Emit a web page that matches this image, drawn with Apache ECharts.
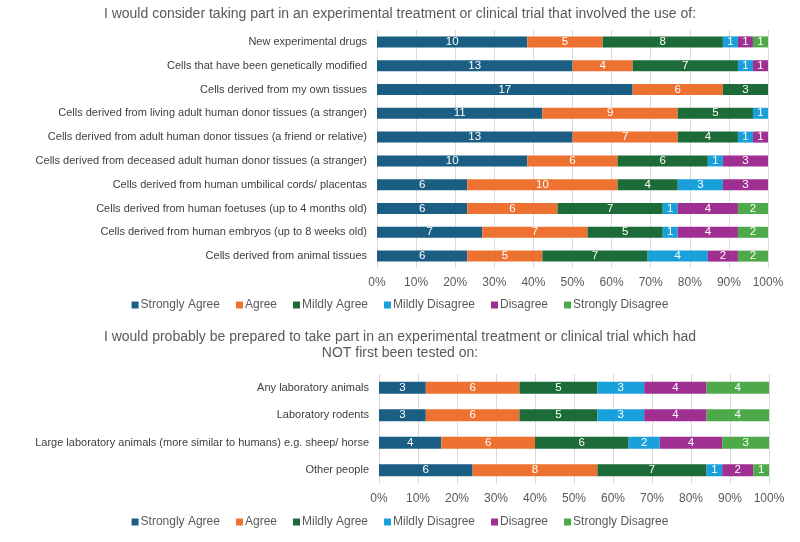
<!DOCTYPE html>
<html>
<head>
<meta charset="utf-8">
<script src="https://cdn.jsdelivr.net/npm/echarts@6/dist/echarts.min.js"></script>
<style>
html, body { margin: 0; padding: 0; background: #fff; }
#main { width: 800px; height: 542px; }
</style>
</head>
<body>
<div id="main"></div>
<script>
// 数据
var seriesNames = ['Strongly Agree', 'Agree', 'Mildly Agree', 'Mildly Disagree', 'Disagree', 'Strongly Disagree'];
var colors = ['#1b5e84', '#ed7232', '#1c6b38', '#19a0db', '#9f2f90', '#4ea94a'];

var categoriesTop = [
    'New experimental drugs',
    'Cells that have been genetically modified',
    'Cells derived from my own tissues',
    'Cells derived from living adult human donor tissues (a stranger)',
    'Cells derived from adult human donor tissues (a friend or relative)',
    'Cells derived from deceased adult human donor tissues (a stranger)',
    'Cells derived from human umbilical cords/ placentas',
    'Cells derived from human foetuses (up to 4 months old)',
    'Cells derived from human embryos (up to 8 weeks old)',
    'Cells derived from animal tissues'
];
var stronglyAgreeTop    = [10, 13, 17, 11, 13, 10, 6, 6, 7, 6];
var agreeTop            = [5, 4, 6, 9, 7, 6, 10, 6, 7, 5];
var mildlyAgreeTop      = [8, 7, 3, 5, 4, 6, 4, 7, 5, 7];
var mildlyDisagreeTop   = [1, 1, 0, 1, 1, 1, 3, 1, 1, 4];
var disagreeTop         = [1, 1, 0, 0, 1, 3, 3, 4, 4, 2];
var stronglyDisagreeTop = [1, 0, 0, 0, 0, 0, 0, 2, 2, 2];

var categoriesBottom = [
    'Any laboratory animals',
    'Laboratory rodents',
    'Large laboratory animals (more similar to humans) e.g. sheep/ horse',
    'Other people'
];
var stronglyAgreeBottom    = [3, 3, 4, 6];
var agreeBottom            = [6, 6, 6, 8];
var mildlyAgreeBottom      = [5, 5, 6, 7];
var mildlyDisagreeBottom   = [3, 3, 2, 1];
var disagreeBottom         = [4, 4, 4, 2];
var stronglyDisagreeBottom = [4, 4, 3, 1];

var ticks = ['0%', '10%', '20%', '30%', '40%', '50%', '60%', '70%', '80%', '90%', '100%'];

var topSets = [stronglyAgreeTop, agreeTop, mildlyAgreeTop, mildlyDisagreeTop, disagreeTop, stronglyDisagreeTop];
var bottomSets = [stronglyAgreeBottom, agreeBottom, mildlyAgreeBottom, mildlyDisagreeBottom, disagreeBottom, stronglyDisagreeBottom];

function totals(sets, n) {
    var t = [];
    for (var i = 0; i < n; i++) {
        var s = 0;
        for (var k = 0; k < sets.length; k++) s += sets[k][i];
        t.push(s);
    }
    return t;
}

var font = 'Liberation Sans, Arial, sans-serif';

function buildSeries(sets, n, idx, barWidth) {
    var tot = totals(sets, n);
    var out = [];
    for (var k = 0; k < sets.length; k++) {
        var data = [];
        for (var i = 0; i < n; i++) {
            data.push({ value: sets[k][i] / tot[i] * 100, count: sets[k][i] });
        }
        out.push({
            name: seriesNames[k],
            type: 'bar',
            stack: 'total' + idx,
            xAxisIndex: idx,
            yAxisIndex: idx,
            barWidth: barWidth,
            itemStyle: { color: colors[k] },
            label: {
                show: true,
                position: 'inside',
                color: '#fff',
                fontSize: 11.5,
                fontFamily: font,
                formatter: function (p) { return p.data.count ? p.data.count : ''; }
            },
            data: data
        });
    }
    return out;
}

function xAxisOf(idx) {
    return {
        gridIndex: idx,
        type: 'value',
        min: 0,
        max: 100,
        interval: 10,
        axisLine: { show: false },
        axisTick: { show: false },
        splitLine: { show: true, lineStyle: { color: '#d9d9d9', width: 1 } },
        axisLabel: {
            color: '#595959',
            fontSize: 12,
            fontFamily: font,
            margin: 9,
            formatter: function (v) { return ticks[Math.round(v / 10)]; }
        }
    };
}

function yAxisOf(idx, cats) {
    return {
        gridIndex: idx,
        type: 'category',
        inverse: true,
        data: cats,
        axisLine: { show: false },
        axisTick: { show: false },
        axisLabel: { color: '#404040', fontSize: 11, fontFamily: font, margin: 10 }
    };
}

function legendOf(top) {
    return {
        data: seriesNames,
        top: top,
        left: 'center',
        icon: 'rect',
        itemWidth: 7,
        itemHeight: 7,
        itemGap: 16,
        textStyle: { color: '#595959', fontSize: 12, fontFamily: font, padding: [0, 0, 0, -3] }
    };
}

function titleOf(text, top) {
    return {
        text: text,
        left: 'center',
        top: top,
        textStyle: { color: '#595959', fontSize: 14, fontWeight: 'normal', fontFamily: font }
    };
}

var myChart = echarts.init(document.getElementById('main'));
var option = {
    animation: false,
    color: colors,
    title: [
        titleOf('I would consider taking part in an experimental treatment or clinical trial that involved the use of:', 2),
        titleOf('I would probably be prepared to take part in an experimental treatment or clinical trial which had', 325),
        titleOf('NOT first been tested on:', 341)
    ],
    legend: [legendOf(294), legendOf(511)],
    grid: [
        { left: 377, right: 32, top: 30, height: 238 },
        { left: 379, right: 31, top: 374, height: 110 }
    ],
    xAxis: [xAxisOf(0), xAxisOf(1)],
    yAxis: [yAxisOf(0, categoriesTop), yAxisOf(1, categoriesBottom)],
    series: buildSeries(topSets, categoriesTop.length, 0, 11).concat(buildSeries(bottomSets, categoriesBottom.length, 1, 12))
};
myChart.setOption(option);

window.onresize = function () {
    myChart.resize();
};
</script>
</body>
</html>
